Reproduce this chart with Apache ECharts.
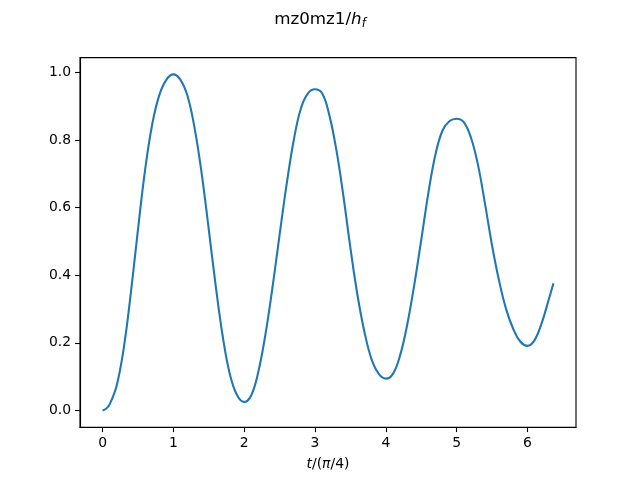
<!DOCTYPE html>
<html>
<head>
<meta charset="utf-8">
<script src="https://cdn.jsdelivr.net/npm/echarts@6/dist/echarts.min.js"></script>
<style>
html,body{margin:0;padding:0;background:#fff;}
#chart{width:640px;height:480px;}
</style>
</head>
<body>
<div id="chart"></div>
<script>
// x values in units of pi/4
var tValues = [
  0.0, 0.05, 0.1, 0.2, 0.3, 0.4, 0.5, 0.6, 0.7, 0.8, 0.9,
  1.0, 1.1, 1.2, 1.3, 1.4, 1.5, 1.6, 1.7, 1.8, 1.9,
  2.0, 2.1, 2.2, 2.3, 2.4, 2.5, 2.6, 2.7, 2.8, 2.9,
  3.0, 3.1, 3.2, 3.3, 3.4, 3.5, 3.6, 3.7, 3.8, 3.9,
  4.0, 4.1, 4.2, 4.3, 4.4, 4.5, 4.6, 4.7, 4.8, 4.9,
  5.0, 5.1, 5.2, 5.3, 5.4, 5.5, 5.6, 5.7, 5.8, 5.9,
  6.0, 6.1, 6.2, 6.3, 6.366
];
var yValues = [
  0.000, 0.005, 0.018, 0.074, 0.185, 0.348, 0.535, 0.710, 0.845, 0.932, 0.978,
  0.994, 0.978, 0.930, 0.835, 0.700, 0.535, 0.365, 0.215, 0.105, 0.045,
  0.025, 0.045, 0.115, 0.225, 0.365, 0.520, 0.670, 0.800, 0.893, 0.938,
  0.950, 0.938, 0.875, 0.772, 0.635, 0.480, 0.340, 0.230, 0.150, 0.108,
  0.094, 0.108, 0.162, 0.252, 0.370, 0.505, 0.643, 0.757, 0.828, 0.856,
  0.863, 0.853, 0.808, 0.727, 0.611, 0.487, 0.382, 0.298, 0.240, 0.203,
  0.191, 0.208, 0.258, 0.328, 0.376
];
var xTicks = [0, 1, 2, 3, 4, 5, 6];
var yTicks = [0, 0.2, 0.4, 0.6, 0.8, 1.0];

var seriesData = tValues.map(function (t, i) { return [t, yValues[i]]; });

var chart = echarts.init(document.getElementById('chart'), null, {renderer: 'canvas'});
var font = 'DejaVu Sans';
chart.setOption({
  animation: false,
  backgroundColor: '#ffffff',
  title: {
    text: '{n|mz0mz1/}{i|h}{s|f}',
    left: 'center',
    top: 5,
    textStyle: {
      fontWeight: 'normal',
      rich: {
        n: {fontFamily: font, fontSize: 16.7, fontWeight: 'normal', color: '#000', lineHeight: 20},
        i: {fontFamily: font, fontSize: 16.7, fontWeight: 'normal', fontStyle: 'italic', color: '#000', lineHeight: 20},
        s: {fontFamily: font, fontSize: 11.7, fontWeight: 'normal', fontStyle: 'italic', color: '#000', lineHeight: 20, verticalAlign: 'bottom'}
      }
    }
  },
  grid: {
    left: 80, top: 57.6, width: 496, height: 369.6,
    show: true, borderColor: '#000', borderWidth: 1.1, backgroundColor: 'transparent',
    containLabel: false
  },
  xAxis: {
    type: 'value',
    min: -0.3183, max: 6.6845,
    splitLine: {show: false},
    axisLine: {show: true, onZero: false, lineStyle: {color: '#000', width: 1.1}},
    axisTick: {show: true, inside: false, length: 4.9, customValues: xTicks, lineStyle: {color: '#000', width: 1.1}},
    axisLabel: {customValues: xTicks, color: '#000', fontFamily: font, fontSize: 13.9, margin: 9,
      formatter: function (v) { return String(Math.round(v)); }},
    name: '{i|t}{n|/(}{i|π}{n|/4)}',
    nameLocation: 'middle',
    nameGap: 30,
    nameTextStyle: {
      rich: {
        n: {fontFamily: font, fontSize: 13.9, color: '#000'},
        i: {fontFamily: font, fontSize: 13.9, fontStyle: 'italic', color: '#000'}
      }
    }
  },
  yAxis: {
    type: 'value',
    min: -0.0497, max: 1.0437,
    splitLine: {show: false},
    axisLine: {show: true, onZero: false, lineStyle: {color: '#000', width: 1.1}},
    axisTick: {show: true, inside: false, length: 4.9, customValues: yTicks, lineStyle: {color: '#000', width: 1.1}},
    axisLabel: {customValues: yTicks, color: '#000', fontFamily: font, fontSize: 13.9, margin: 9,
      formatter: function (v) { return v.toFixed(1); }}
  },
  series: [{
    type: 'line',
    data: seriesData,
    showSymbol: false,
    smooth: 0.4,
    lineStyle: {color: '#1f77b4', width: 2.08},
    itemStyle: {color: '#1f77b4'}
  }]
});
</script>
</body>
</html>
